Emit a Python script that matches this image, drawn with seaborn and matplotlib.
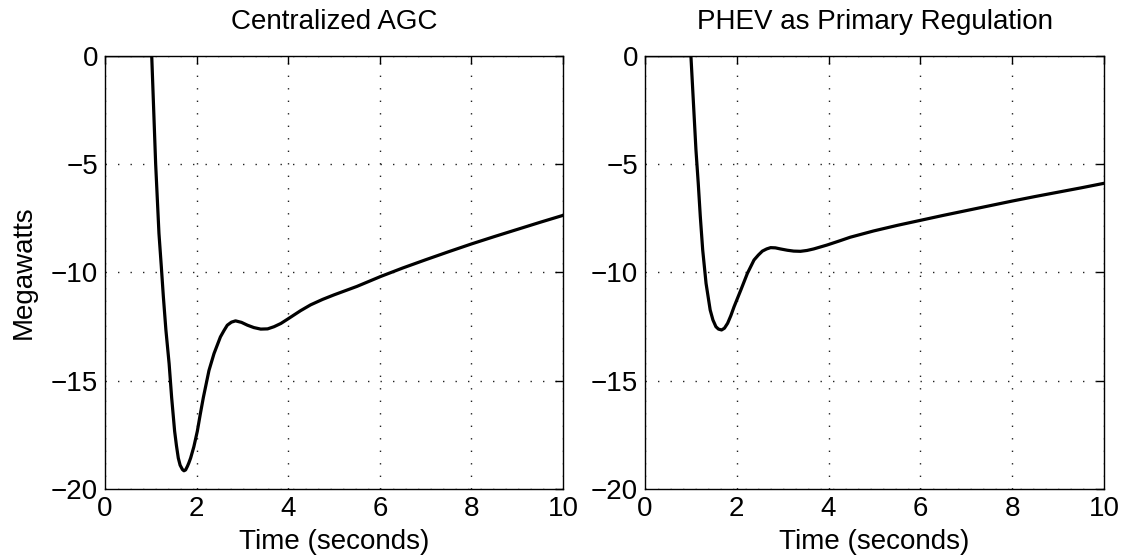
import numpy as np
import pandas as pd
import matplotlib
matplotlib.use("Agg")
import matplotlib.pyplot as plt
import seaborn as sns

# ---- data ----
t_agc = [0.0, 0.5, 1.02, 1.106, 1.178, 1.23, 1.274, 1.33, 1.40, 1.455, 1.52, 1.56, 1.60,
         1.64, 1.69, 1.724, 1.76, 1.80, 1.83, 1.87, 1.94, 2.016, 2.08, 2.147, 2.27, 2.38,
         2.52, 2.60, 2.67, 2.76, 2.85, 2.98, 3.11, 3.25, 3.40, 3.55, 3.69, 3.84, 3.98,
         4.27, 4.49, 4.75, 5.0, 5.5, 6.02, 6.5, 7.0, 7.5, 8.0, 8.5, 9.0, 9.5, 10.0]
mw_agc = [0.0, 0.0, 0.0, -5.0, -8.2, -9.75, -11.12, -12.67, -14.22, -15.78, -17.33, -18.0, -18.57,
          -18.9, -19.1, -19.16, -19.12, -18.95, -18.8, -18.57, -18.05, -17.33, -16.55, -15.78, -14.53, -13.75,
          -12.98, -12.68, -12.44, -12.30, -12.24, -12.31, -12.44, -12.55, -12.62, -12.61, -12.51, -12.36, -12.17,
          -11.77, -11.5, -11.25, -11.04, -10.65, -10.19, -9.8, -9.42,
          -9.05, -8.69, -8.35, -8.02, -7.69, -7.37]

t_phev = [0.0, 0.5, 1.0, 1.11, 1.16, 1.205, 1.257, 1.33, 1.42, 1.48, 1.545, 1.60, 1.668, 1.73,
          1.80, 1.87, 1.94, 2.087, 2.23, 2.375, 2.47, 2.557, 2.65, 2.737, 2.84, 2.95, 3.1, 3.24,
          3.387, 3.53, 3.675, 3.965, 4.25, 4.47, 4.98, 5.5, 6.0, 6.5, 7.0, 7.5, 8.0, 8.5,
          9.0, 9.5, 10.0]
mw_phev = [0.0, 0.0, 0.0, -4.35, -5.89, -7.43, -8.97, -10.51, -11.74, -12.2, -12.51, -12.62, -12.66, -12.58,
           -12.35, -12.0, -11.59, -10.82, -10.05, -9.43, -9.2, -9.02, -8.92, -8.86, -8.87, -8.92, -8.98, -9.02,
           -9.03, -8.99, -8.92, -8.74, -8.54, -8.38, -8.09, -7.83, -7.6, -7.37, -7.15, -6.93, -6.71, -6.5,
           -6.3, -6.1, -5.89]

titles = ["Centralized AGC", "PHEV as Primary Regulation"]
x_ticks = [0, 2, 4, 6, 8, 10]
y_ticks = [-20, -15, -10, -5, 0]
xlabel = "Time (seconds)"
ylabel = "Megawatts"

df_agc = pd.DataFrame({"t": t_agc, "mw": mw_agc})
df_phev = pd.DataFrame({"t": t_phev, "mw": mw_phev})

sns.set_style("white")
plt.rcParams["font.family"] = ["Liberation Sans", "DejaVu Sans"]
plt.rcParams["font.size"] = 20
plt.rcParams["text.color"] = "black"
plt.rcParams["axes.labelcolor"] = "black"
plt.rcParams["xtick.color"] = "black"
plt.rcParams["ytick.color"] = "black"

fig = plt.figure(figsize=(11.29, 5.58), dpi=100)
ax1 = fig.add_axes([0.0930, 0.1237, 0.4057, 0.7765])
ax2 = fig.add_axes([0.5713, 0.1237, 0.4066, 0.7765])

for ax, df, title in [(ax1, df_agc, titles[0]), (ax2, df_phev, titles[1])]:
    sns.lineplot(data=df, x="t", y="mw", ax=ax, color="black", linewidth=2.3,
                 sort=False, estimator=None)
    ax.set_xlim(0, 10)
    ax.set_ylim(-20, 0)
    ax.set_xticks(x_ticks)
    ax.set_yticks(y_ticks)
    ax.set_xlabel(xlabel, fontsize=20, labelpad=5, color="black")
    ax.set_ylabel("")
    ax.set_title(title, fontsize=20, pad=19, color="black")
    ax.grid(True, color="#222222", linestyle=(0, (1, 8)), linewidth=1.0)
    ax.tick_params(axis="both", which="major", direction="in", length=6, width=1,
                   top=True, right=True, labelsize=20, pad=5, colors="black")
    for s in ax.spines.values():
        s.set_visible(True)
        s.set_color("black")
        s.set_linewidth(1.0)
    ax.set_facecolor("white")

ax1.set_ylabel(ylabel, fontsize=20, labelpad=10, color="black")

fig.savefig("out.png", dpi=100, facecolor="white")
